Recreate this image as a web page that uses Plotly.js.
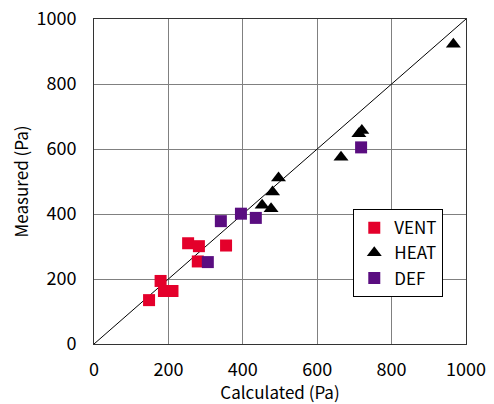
<!DOCTYPE html>
<html>
<head>
<meta charset="utf-8">
<script src="https://cdn.plot.ly/plotly-3.0.1.min.js"></script>
<style>html,body{margin:0;padding:0;background:#fff;}#chart{width:494px;height:404px;}</style>
</head>
<body>
<div id="chart"></div>
<script>
const ventCalc = [148, 179, 188, 211, 253, 282, 279, 355];
const ventMeas = [135, 194, 163, 163, 310, 301, 254, 303];
const heatCalc = [966, 496, 480, 452, 476, 664, 712, 720];
const heatMeas = [922, 511, 468, 427, 416, 575, 647, 657];
const defCalc = [306, 341, 395, 435, 718];
const defMeas = [252, 378, 401, 388, 605];
const diagonal = [0, 1000];
const ticks = [0, 200, 400, 600, 800, 1000];

const fontFam = '"Noto Sans CJK JP", "DejaVu Sans", sans-serif';

const traces = [
  {x: diagonal, y: diagonal, mode: 'lines', line: {color: '#000', width: 1}, showlegend: false, hoverinfo: 'skip'},
  {x: ventCalc, y: ventMeas, name: 'VENT', mode: 'markers', type: 'scatter',
   marker: {symbol: 'square', size: 12, color: '#E4002B'}},
  {x: heatCalc, y: heatMeas, name: 'HEAT', mode: 'markers', type: 'scatter',
   marker: {symbol: 'triangle-up', size: 13, color: '#000000'}},
  {x: defCalc, y: defMeas, name: 'DEF', mode: 'markers', type: 'scatter',
   marker: {symbol: 'square', size: 12, color: '#5A0D80'}}
];

const axisCommon = {
  range: [0, 1000], tickvals: ticks, ticktext: ticks.map(String),
  showgrid: true, gridcolor: '#808080', gridwidth: 1,
  zeroline: false, showline: true, linecolor: '#333', linewidth: 1, mirror: true,
  ticks: '', tickfont: {family: fontFam, size: 18, color: '#000'}, fixedrange: true
};

const layout = {
  width: 494, height: 404,
  margin: {l: 94, r: 28, t: 19, b: 60},
  paper_bgcolor: '#fff', plot_bgcolor: '#fff',
  font: {family: fontFam, color: '#000'},
  xaxis: Object.assign({}, axisCommon, {
    title: {text: 'Calculated (Pa)', font: {family: fontFam, size: 17, color: '#000'}, standoff: 15},
    ticklabelstandoff: 9
  }),
  yaxis: Object.assign({}, axisCommon, {
    title: {text: 'Measured (Pa)', font: {family: fontFam, size: 17, color: '#000'}, standoff: 3},
    ticklabelstandoff: 13
  }),
  legend: {
    x: 0.697, y: 0.415, xanchor: 'left', yanchor: 'top',
    bgcolor: '#fff', bordercolor: '#000', borderwidth: 1,
    font: {family: fontFam, size: 17, color: '#000'},
    itemwidth: 30, tracegroupgap: 0
  },
  showlegend: true
};

Plotly.newPlot('chart', traces, layout, {staticPlot: true, displayModeBar: false});
</script>
</body>
</html>
